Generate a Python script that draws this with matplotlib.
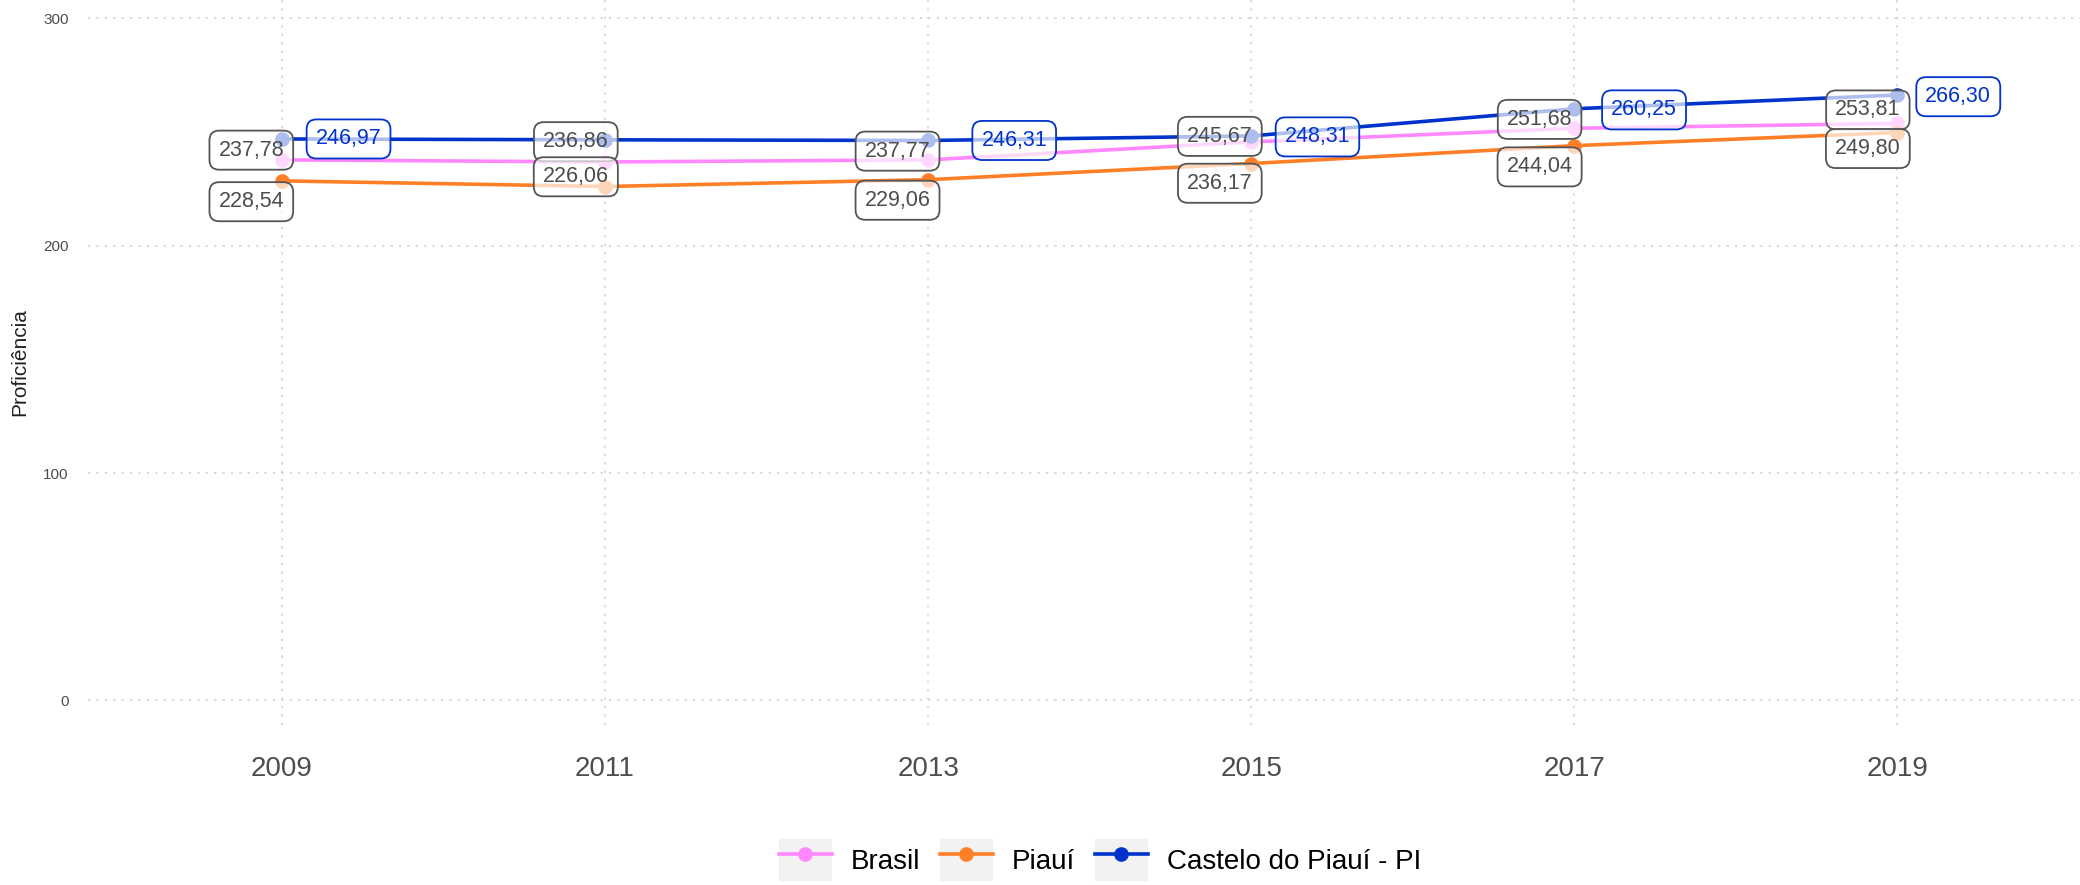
import numpy as np
import matplotlib
matplotlib.use('Agg')
from matplotlib import pyplot as plt
from matplotlib.patches import Rectangle
from matplotlib.legend_handler import HandlerLine2D
from matplotlib.lines import Line2D

plt.rcParams['font.family'] = ['Liberation Sans', 'DejaVu Sans']

years = [2009, 2011, 2013, 2015, 2017, 2019]
brasil = [237.78, 236.86, 237.77, 245.67, 251.68, 253.81]
piaui = [228.54, 226.06, 229.06, 236.17, 244.04, 249.80]
castelo = [246.97, 246.60, 246.31, 248.31, 260.25, 266.30]
series_names = ['Brasil', 'Piauí', 'Castelo do Piauí - PI']
y_ticks = [0, 100, 200, 300]

colors = ['#FF88FF', '#FF7F27', '#0033CC']

# label offsets (points) from each marker, None = label not shown
brasil_off = [(-22, 7), (-21, 14.6), (-22, 6.3), (-22.6, 4), (-25, 6.4), (-21.3, 9.7)]
piaui_off = [(-22, -15), (-21, 7), (-22, -14.8), (-22.6, -14.2), (-25, -15.3), (-21.3, -11.5)]
castelo_off = [(48, 0), None, (62, 0), (47.7, -0.7), (50.2, -0.8), (43.8, -1.2)]


class KeyHandler(HandlerLine2D):
    def create_artists(self, legend, orig_handle, xdescent, ydescent, width, height, fontsize, trans):
        bg = Rectangle((-xdescent, -ydescent), width, height, facecolor='#F2F2F2',
                       edgecolor='none', transform=trans)
        arts = super().create_artists(legend, orig_handle, xdescent, ydescent, width, height, fontsize, trans)
        return [bg] + list(arts)


def fmt(v):
    return f'{v:.2f}'.replace('.', ',')


fig = plt.figure(figsize=(20.8, 8.85), dpi=100)
ax = fig.add_axes([88 / 2080, 1 - 725 / 885, 1 - 88 / 2080, 725 / 885])

all_series = [brasil, piaui, castelo]
for vals, col in zip(all_series, colors):
    ax.plot(years, vals, color=col, lw=2.6, marker='o', ms=9.5, zorder=3)

for vals, offs, col in zip(all_series, [brasil_off, piaui_off, castelo_off], colors):
    is_blue = col == colors[2]
    tcol = colors[2] if is_blue else '#4D4D4D'
    ecol = colors[2] if is_blue else '#555555'
    for x, v, off in zip(years, vals, offs):
        if off is None:
            continue
        ax.annotate(fmt(v), (x, v), xytext=off, textcoords='offset points',
                    ha='center', va='center', fontsize=15.5, color=tcol, zorder=5,
                    bbox=dict(boxstyle='round,pad=0.42,rounding_size=0.45',
                              facecolor=(1, 1, 1, 0.68), edgecolor=ecol, lw=1.3))

ax.set_xlim(2007.8, 2020.13)
ax.set_ylim(-10.8, 308.1)
ax.set_xticks(years)
ax.set_xticklabels([str(y) for y in years])
ax.set_yticks(y_ticks)
ax.tick_params(axis='x', length=0, pad=22, labelsize=20, labelcolor='#4D4D4D')
ax.tick_params(axis='y', length=0, pad=14, labelsize=11, labelcolor='#4D4D4D')
ax.grid(True, linestyle=(0, (1.5, 4)), color='#CFCFCF', lw=1.1)
ax.set_axisbelow(True)
for s in ax.spines.values():
    s.set_visible(False)
ax.set_ylabel('Proficiência', fontsize=15, color='#222222', labelpad=10)

handles = [Line2D([], [], color=c, lw=2.6, marker='o', ms=9.5) for c in colors]
fig.legend(handles, series_names, loc='center', bbox_to_anchor=(1100 / 2080, 1 - 860 / 885),
           ncol=3, frameon=False, fontsize=20, handlelength=1.9, handleheight=1.9,
           handletextpad=0.7, columnspacing=0.7,
           handler_map={Line2D: KeyHandler()})

plt.savefig('out.png')
